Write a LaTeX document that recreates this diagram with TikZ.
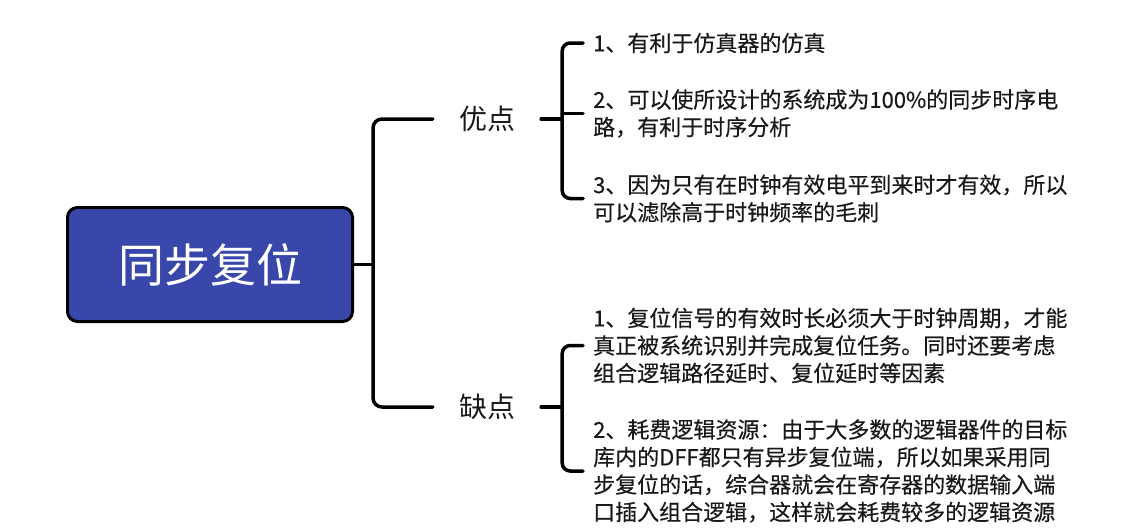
\documentclass[tikz,border=0pt]{standalone}
\usepackage{fontspec}
\usepackage{xcolor}
\newfontfamily\cjk{Noto Sans CJK SC}
\newfontfamily\cjkitem[FakeBold=0.4]{Noto Sans CJK SC}
\definecolor{rootblue}{RGB}{57,71,171}
\definecolor{inkgray}{RGB}{25,25,25}

\begin{document}
\begin{tikzpicture}[x=1pt, y=-1pt,
        rootbox/.style={draw=black, line width=3pt, fill=rootblue, rounded corners=10pt,
            minimum width=285pt, minimum height=114pt, text=white,
            font=\cjk\fontsize{46}{50}\selectfont},
        sidelabel/.style={inner xsep=26pt, inner ysep=4pt, text=inkgray,
            font=\cjk\fontsize{28}{32}\selectfont},
        item/.style={anchor=west, inner xsep=10pt, inner ysep=0pt, align=left, text=inkgray,
            font=\cjkitem\fontsize{22}{27.5}\selectfont},
        branch/.style={line width=3.5pt, line cap=round}]
        \useasboundingbox (0,0) rectangle (1129,531);
        \node[rootbox] (root) at (210,264.5) {同步复位};
        \node[sidelabel] (pro) at (487,119) {优点};
        \node[sidelabel] (con) at (487,407) {缺点};
        \node[item] (pro1) at (583,43) {1、有利于仿真器的仿真};
        \node[item] (pro2) at (583,113.5) {2、可以使所设计的系统成为100\%的同步时序电\\路，有利于时序分析};
        \node[item] (pro3) at (583,198.5) {3、因为只有在时钟有效电平到来时才有效，所以\\可以滤除高于时钟频率的毛刺};
        \node[item] (con1) at (583,345.5) {1、复位信号的有效时长必须大于时钟周期，才能\\真正被系统识别并完成复位任务。同时还要考虑\\组合逻辑路径延时、复位延时等因素};
        \node[item] (con2) at (583,471) {2、耗费逻辑资源：由于大多数的逻辑器件的目标\\库内的DFF都只有异步复位端，所以如果采用同\\步复位的话，综合器就会在寄存器的数据输入端\\口插入组合逻辑，这样就会耗费较多的逻辑资源};
        \coordinate (hub) at ([xshift=19pt]root.east);
        \coordinate (prohub) at ([xshift=21pt]pro.east);
        \coordinate (conhub) at ([xshift=21pt]con.east);
        \draw[branch] (root.east) -- (hub);
        \draw[branch, rounded corners=9pt] (pro.west) -| (hub) |- (con.west);
        \draw[branch] (pro.east) -- (prohub);
        \draw[branch, rounded corners=8pt] (pro1.west) -| (prohub) |- (pro3.west);
        \draw[branch] (prohub |- pro2.west) -- (pro2.west);
        \draw[branch] (con.east) -- (conhub);
        \draw[branch, rounded corners=8pt] (con1.west) -| (conhub) |- (con2.west);
    \end{tikzpicture}
\end{document}
